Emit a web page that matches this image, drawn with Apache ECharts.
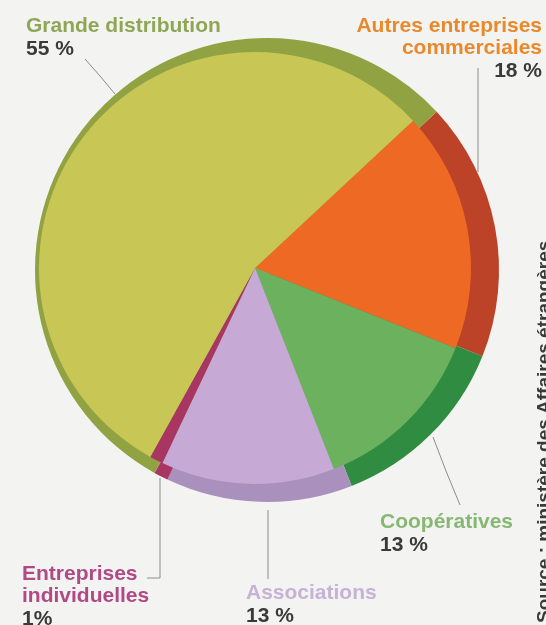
<!DOCTYPE html>
<html>
<head>
<meta charset="utf-8">
<script src="https://cdn.jsdelivr.net/npm/echarts@6/dist/echarts.min.js"></script>
<style>
html,body{margin:0;padding:0;background:#f3f3f1;}
#c{width:546px;height:625px;}
</style>
</head>
<body>
<div id="c"></div>
<script>
// Data
const categories = ['Autres entreprises\ncommerciales', 'Coopératives', 'Associations', 'Entreprises\nindividuelles', 'Grande distribution'];
const values = [18, 13, 13, 1, 55];
const pctLabels = ['18 %', '13 %', '13 %', '1%', '55 %'];
const sourceText = 'Source : ministère des Affaires étrangères';

// Styles
const lightColors = ['#ee6a24', '#6cb25e', '#c6a9d4', '#a83562', '#c8c756'];
const darkColors  = ['#bc4328', '#2f8c40', '#a990bd', '#a83562', '#90a241'];
const nameColors  = ['#e8892c', '#86b873', '#c6b2d5', '#b04a86', '#8ea656'];
const labelPos = [
  {x: 542, y: 15, align: 'right', line: [[478, 68], [478, 120], [478, 172]]},
  {x: 380, y: 511, align: 'left', line: [[460, 505], [446, 471], [433, 437]]},
  {x: 246, y: 582, align: 'left', line: [[268, 579], [268, 545], [268, 510]]},
  {x: 22,  y: 563, align: 'left', line: [[147, 578], [160, 578], [160, 478]]},
  {x: 26,  y: 15, align: 'left', line: [[85, 59], [100, 76], [115, 94]]}
];

const rich = {};
nameColors.forEach((c, i) => {
  const al = labelPos[i].align;
  rich['n' + i] = {color: c, fontSize: 21, fontWeight: 'bold', fontFamily: 'Liberation Sans, Arial, sans-serif', lineHeight: 22, align: al};
  rich['p' + i] = {color: '#3a3a3a', fontSize: 21, fontWeight: 'bold', fontFamily: 'Liberation Sans, Arial, sans-serif', lineHeight: 25, align: al};
});

const outerData = categories.map((c, i) => ({
  name: c, value: values[i], itemStyle: {color: darkColors[i]}
}));
const innerData = categories.map((c, i) => ({
  name: c, value: values[i], itemStyle: {color: lightColors[i]}
}));

const chart = echarts.init(document.getElementById('c'), null, {renderer: 'canvas'});
chart.setOption({
  backgroundColor: '#f3f3f1',
  animation: false,
  graphic: [{
    type: 'text',
    x: 545, y: 623,
    rotation: Math.PI / 2,
    style: {
      text: sourceText,
      fill: '#3a3a3a',
      font: 'bold 19px Liberation Sans, Arial, sans-serif',
      textAlign: 'left',
      textVerticalAlign: 'middle'
    }
  }],
  series: [
    {
      type: 'pie',
      center: [267, 270],
      radius: [0, 232],
      startAngle: 43,
      clockwise: true,
      avoidLabelOverlap: false,
      silent: true,
      data: outerData,
      itemStyle: {borderWidth: 0},
      label: {
        show: true,
        position: 'outside',
        formatter: p => {
          const i = p.dataIndex;
          return categories[i].split('\n').map(s => '{n' + i + '|' + s + '}').join('\n') + '\n{p' + i + '|' + pctLabels[i] + '}';
        },
        rich: rich
      },
      labelLine: {show: true, lineStyle: {color: '#8c8c8c', width: 1}},
      labelLayout: params => {
        const lp = labelPos[params.dataIndex];
        return {x: lp.x, y: lp.y, align: lp.align, verticalAlign: 'top', labelLinePoints: lp.line};
      }
    },
    {
      type: 'pie',
      center: [255, 268],
      radius: [0, 216],
      startAngle: 43,
      clockwise: true,
      silent: true,
      data: innerData,
      itemStyle: {borderWidth: 0},
      label: {show: false},
      labelLine: {show: false}
    }
  ]
});
</script>
</body>
</html>
